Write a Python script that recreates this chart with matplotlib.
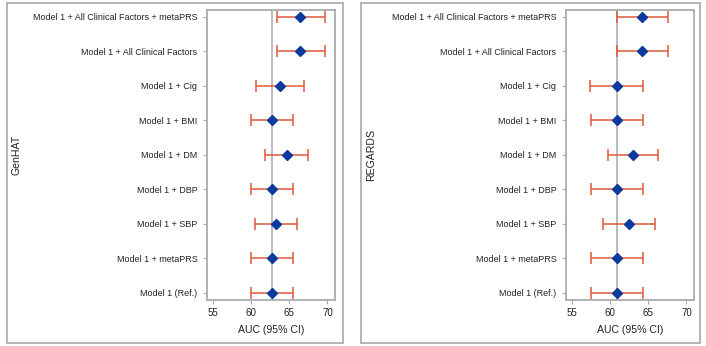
import matplotlib
matplotlib.use("Agg")
import matplotlib.pyplot as plt
from matplotlib.patches import Rectangle

plt.rcParams['font.family'] = ['Liberation Sans', 'DejaVu Sans']

models = ["Model 1 (Ref.)", "Model 1 + metaPRS", "Model 1 + SBP", "Model 1 + DBP",
          "Model 1 + DM", "Model 1 + BMI", "Model 1 + Cig",
          "Model 1 + All Clinical Factors", "Model 1 + All Clinical Factors + metaPRS"]

genhat_auc = [62.7, 62.7, 63.25, 62.76, 64.7, 62.7, 63.74, 66.45, 66.45]
genhat_lo = [59.95, 59.95, 60.45, 59.96, 61.84, 59.96, 60.58, 63.34, 63.34]
genhat_hi = [65.53, 65.53, 66.05, 65.53, 67.5, 65.53, 66.93, 69.66, 69.66]

regards_auc = [60.85, 60.85, 62.39, 60.88, 63.0, 60.82, 60.81, 64.19, 64.19]
regards_lo = [57.5, 57.5, 58.98, 57.5, 59.64, 57.5, 57.36, 60.87, 60.87]
regards_hi = [64.33, 64.33, 65.85, 64.36, 66.33, 64.28, 64.23, 67.56, 67.56]

x_ticks = [55, 60, 65, 70]
panels = [("GenHAT", genhat_auc, genhat_lo, genhat_hi),
          ("REGARDS", regards_auc, regards_lo, regards_hi)]

W, H = 706, 346
fig = plt.figure(figsize=(W / 100, H / 100), dpi=100)

frame_px = [(7, 3, 343, 343), (361, 3, 700, 343)]
axes_px = [(207, 10, 335, 300), (566, 10, 694, 300)]

err_color = "#e0583a"
mk_color = "#0a3a9e"
grid_gray = "#a8adb2"
text_color = "#222222"

for (name, auc, lo, hi), fr, ap in zip(panels, frame_px, axes_px):
    x0, y0, x1, y1 = fr
    fig.patches.append(Rectangle((x0 / W, 1 - y1 / H), (x1 - x0) / W, (y1 - y0) / H,
                                 transform=fig.transFigure, fill=False,
                                 edgecolor="#b4b4b4", linewidth=1.4))
    a0, b0, a1, b1 = ap
    ax = fig.add_axes([a0 / W, 1 - b1 / H, (a1 - a0) / W, (b1 - b0) / H])
    ypos = list(range(len(models)))
    xerr = [[a - l for a, l in zip(auc, lo)], [h - a for a, h in zip(auc, hi)]]
    ax.axvline(auc[0], color="#b8bcc0", linewidth=1.4, zorder=1)
    ax.errorbar(auc, ypos, xerr=xerr, fmt="none", ecolor=err_color, elinewidth=1.1,
                capsize=4, capthick=1.1, zorder=2)
    ax.plot(auc, ypos, linestyle="none", marker="D", markersize=4.6,
            color=mk_color, markeredgecolor=mk_color, zorder=3)
    ax.set_xlim(54.17, 71.0)
    ax.set_ylim(-0.21, 8.19)
    ax.set_yticks(ypos)
    ax.set_yticklabels(models)
    ax.set_xticks(x_ticks)
    ax.set_xticklabels([str(t) for t in x_ticks])
    for s in ax.spines.values():
        s.set_color(grid_gray)
        s.set_linewidth(1.3)
    ax.tick_params(axis="both", colors=grid_gray, labelcolor=text_color,
                   labelsize=6.5, length=3, width=0.8, pad=4)
    ax.tick_params(axis="x", labelsize=7.0, pad=3)
    ax.set_xlabel("AUC (95% CI)", fontsize=7.6, color=text_color, labelpad=5)
    ax.set_ylabel(name, fontsize=7.6, color=text_color)
    ax.yaxis.set_label_coords(-(a0 - x0 - 15) / (a1 - a0), 0.5)

fig.savefig("out.png", dpi=100)
